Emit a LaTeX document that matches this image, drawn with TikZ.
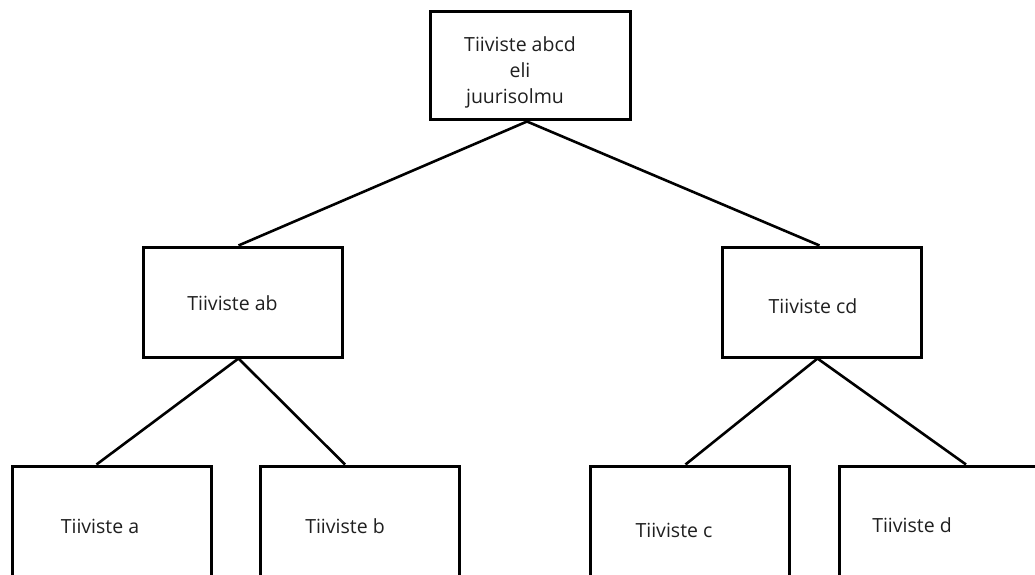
\documentclass[tikz,border=0pt]{standalone}
\usepackage{fontspec}
\setmainfont{Open Sans}
\begin{document}
\begin{tikzpicture}[x=1pt,y=-1pt,
  box/.style={draw,line width=3pt,rectangle,inner sep=0pt,minimum width=199pt},
  lbl/.style={font=\fontsize{19.5}{26}\selectfont,text=black!88},
  conn/.style={line width=2.6pt}]
\useasboundingbox (0,0) rectangle (1035,575);
\clip (0,0) rectangle (1035,575);
% root
\node[box,minimum width=200pt,minimum height=108pt,
  label={[lbl,align=center,shift={(-10pt,-6pt)}]center:Tiiviste abcd\\eli\\\hspace*{-10pt}juurisolmu}] (root) at (530,66) {};
% level 2
\node[box,minimum height=110pt,label={[lbl,shift={(-10pt,-1pt)}]center:Tiiviste ab}] (ab) at (242.5,302) {};
\node[box,minimum height=110pt,label={[lbl,shift={(-8.5pt,-4pt)}]center:Tiiviste cd}] (cd) at (821.5,302) {};
% leaves
\node[box,minimum height=154pt,label={[lbl,shift={(-11.5pt,17pt)}]center:Tiiviste a}] (a) at (111.5,543) {};
\node[box,minimum height=154pt,label={[lbl,shift={(-15pt,17pt)}]center:Tiiviste b}] (b) at (360,543) {};
\node[box,minimum height=154pt,label={[lbl,shift={(-15.5pt,13pt)}]center:Tiiviste c}] (c) at (689.5,543) {};
\node[box,minimum width=206pt,minimum height=154pt,label={[lbl,shift={(-30pt,18pt)}]center:Tiiviste d}] (d) at (942,543) {};
% connectors
\draw[conn] ([xshift=-3pt]root.south) -- ([xshift=-4pt]ab.north);
\draw[conn] ([xshift=-3pt]root.south) -- ([xshift=-2pt]cd.north);
\draw[conn] ([xshift=-4pt]ab.south) -- ([xshift=-15pt]a.north);
\draw[conn] ([xshift=-4pt]ab.south) -- ([xshift=-15pt]b.north);
\draw[conn] ([xshift=-4pt]cd.south) -- ([xshift=-4pt]c.north);
\draw[conn] ([xshift=-4pt]cd.south) -- ([xshift=24pt]d.north);
\end{tikzpicture}
\end{document}
